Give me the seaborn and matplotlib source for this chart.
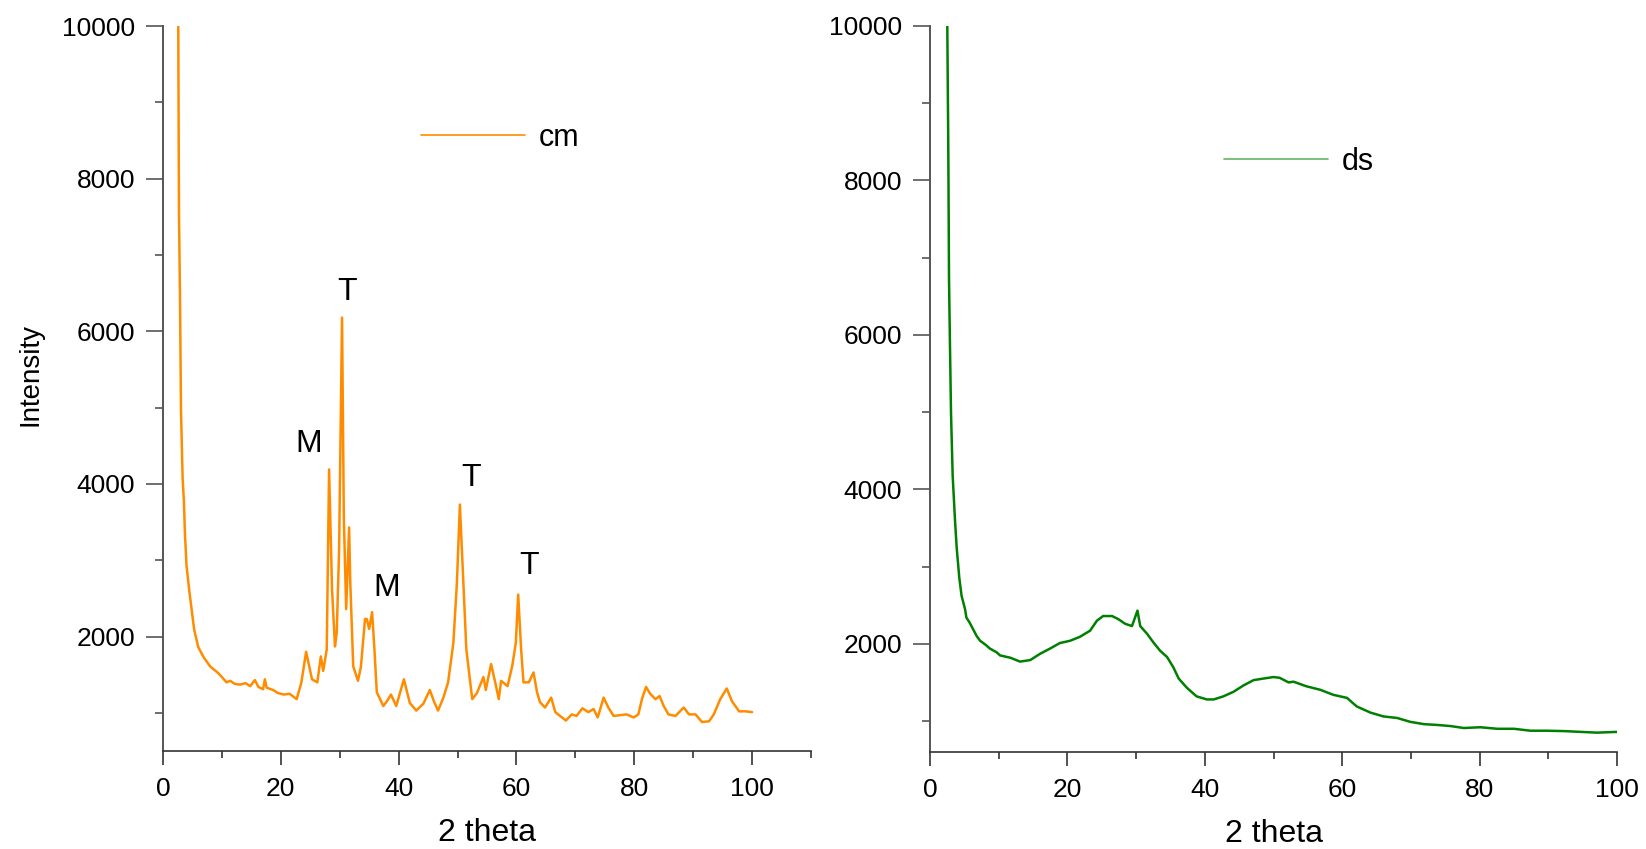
import matplotlib
matplotlib.use("Agg")
import matplotlib.pyplot as plt
from matplotlib.ticker import MultipleLocator
from matplotlib.lines import Line2D
import seaborn as sns

# values
cm_x = [2.6, 2.72, 2.89, 3.06, 3.34, 3.56, 3.73, 4.0, 4.5, 4.9, 5.3, 6.0, 6.9, 8.0, 9.4,
        10.8, 11.4, 12.2, 13.1, 14.0, 14.8, 15.6, 16.2, 17.0, 17.3, 17.6, 18.7, 19.5, 20.5,
        21.5, 22.7, 23.5, 24.3, 25.3, 26.2, 26.8, 27.2, 27.8, 28.2, 28.7, 29.2, 29.5, 29.9,
        30.4, 30.7, 31.1, 31.6, 31.8, 32.3, 33.1, 33.6, 34.3, 34.6, 35.0, 35.5, 35.9, 36.3,
        37.4, 38.0, 38.7, 39.6, 40.9, 41.9, 43.0, 44.2, 45.3, 46.0, 46.7, 47.6, 48.4, 49.3,
        49.9, 50.4, 51.0, 51.5, 52.5, 53.3, 54.4, 54.8, 55.7, 56.4, 57.0, 57.4, 58.5, 59.3,
        59.9, 60.3, 60.8, 61.2, 62.1, 62.9, 63.5, 64.0, 64.85, 65.9, 66.6, 67.4, 68.4, 69.4,
        70.2, 71.2, 72.2, 73.1, 73.8, 74.8, 75.6, 76.5, 77.6, 78.7, 79.9, 80.7, 81.3, 82.0,
        82.7, 83.6, 84.3, 85.0, 85.8, 87.0, 88.4, 89.3, 90.4, 91.5, 92.7, 93.5, 94.6, 95.7,
        96.6, 97.8, 98.9, 100.0]
cm_y = [10000, 7550, 6480, 4970, 4070, 3770, 3350, 2930, 2580, 2330, 2090, 1860, 1730, 1610, 1520,
        1400, 1420, 1380, 1370, 1390, 1350, 1430, 1340, 1310, 1440, 1330, 1300, 1260, 1240,
        1250, 1180, 1400, 1800, 1440, 1400, 1740, 1550, 1830, 4190, 2620, 1870, 2050, 3140,
        6180, 3570, 2360, 3430, 2700, 1610, 1420, 1600, 2230, 2230, 2100, 2320, 1830, 1270,
        1090, 1150, 1240, 1090, 1440, 1130, 1030, 1120, 1300, 1150, 1030, 1200, 1400, 1920,
        2710, 3730, 2710, 1830, 1180, 1260, 1470, 1300, 1640, 1400, 1180, 1420, 1350, 1620,
        1920, 2550, 1830, 1400, 1400, 1530, 1270, 1140, 1070, 1200, 1010, 960, 900, 980,
        960, 1060, 1010, 1050, 940, 1200, 1070, 960, 970, 980, 940, 980, 1180, 1340,
        1250, 1180, 1220, 1090, 980, 960, 1070, 980, 980, 880, 890, 980, 1180, 1320,
        1150, 1020, 1020, 1010]

ds_x = [2.52, 2.67, 2.77, 2.91, 3.06, 3.3, 3.64, 3.88, 4.27, 4.6, 5.1, 5.3, 5.8, 6.8, 7.3,
        8.2, 8.7, 9.7, 10.2, 11.7, 13.1, 14.6, 16.0, 17.5, 18.9, 20.4, 21.8, 23.3, 24.3,
        25.2, 26.5, 27.4, 28.4, 29.4, 30.2, 30.6, 31.6, 32.5, 33.5, 34.5, 35.4, 36.2, 37.4,
        38.8, 40.3, 41.3, 42.7, 44.2, 45.6, 47.1, 48.5, 50.0, 50.9, 52.2, 52.9, 54.8, 56.8,
        58.7, 60.7, 62.1, 64.1, 66.0, 68.0, 69.9, 71.9, 73.8, 75.8, 77.7, 80.1, 82.6, 85.0,
        87.4, 89.8, 92.3, 94.7, 97.1, 100.0]
ds_y = [10000, 8340, 6720, 5850, 4990, 4180, 3600, 3250, 2850, 2620, 2450, 2340, 2270, 2100, 2040,
        1980, 1940, 1890, 1850, 1820, 1770, 1790, 1870, 1940, 2010, 2040, 2090, 2170, 2300,
        2360, 2360, 2320, 2260, 2230, 2430, 2230, 2130, 2020, 1910, 1830, 1700, 1550, 1430,
        1320, 1280, 1280, 1320, 1380, 1460, 1530, 1550, 1570, 1560, 1500, 1510, 1450, 1405,
        1340, 1300, 1190, 1110, 1060, 1040, 990, 960, 950, 935, 910, 920, 900, 900,
        875, 875, 870, 860, 850, 860]

peak_labels = ["M", "T", "M", "T", "T"]
peak_x = [24.8, 31.2, 38.0, 52.3, 62.1]
peak_y = [4520, 6520, 2640, 4080, 2920]

ORANGE = "#ff8c00"
GREEN = "#008000"

sns.set_theme(style="ticks")
plt.rcParams["font.family"] = ["Liberation Sans", "DejaVu Sans"]
plt.rcParams["text.color"] = "black"
plt.rcParams["xtick.labelcolor"] = "black"
plt.rcParams["ytick.labelcolor"] = "black"

fig = plt.figure(figsize=(16.46, 8.49), dpi=100)
ax1 = fig.add_axes([0.0990, 0.1154, 0.3937, 0.8539])
ax2 = fig.add_axes([0.5650, 0.1143, 0.4174, 0.8551])

sns.lineplot(x=cm_x, y=cm_y, ax=ax1, color=ORANGE, linewidth=1.8, estimator=None, sort=False)
sns.lineplot(x=ds_x, y=ds_y, ax=ax2, color=GREEN, linewidth=1.8, estimator=None, sort=False)

ax1.set_xlim(0, 110)
ax1.set_ylim(500, 10000)
ax2.set_xlim(0, 100)
ax2.set_ylim(600, 10000)

for ax in (ax1, ax2):
    sns.despine(ax=ax)
    ax.xaxis.set_major_locator(MultipleLocator(20))
    ax.xaxis.set_minor_locator(MultipleLocator(10))
    ax.yaxis.set_major_locator(MultipleLocator(2000))
    ax.yaxis.set_minor_locator(MultipleLocator(1000))
    ax.tick_params(axis="y", which="major", length=12, width=1.2, pad=8, labelsize=19,
                   color="#555555", labelcolor="black")
    ax.tick_params(axis="y", which="minor", length=6, width=1.2, color="#555555")
    ax.tick_params(axis="x", which="major", length=10, width=1.2, pad=9, labelsize=19,
                   color="#333333", labelcolor="black")
    ax.tick_params(axis="x", which="minor", length=5, width=1.2, color="#333333")
    ax.spines["left"].set_color("#555555")
    ax.spines["left"].set_linewidth(1.4)
    ax.spines["bottom"].set_color("#333333")
    ax.spines["bottom"].set_linewidth(1.2)
    ax.set_xlabel("2 theta", fontsize=23, labelpad=12, color="black")
    ax.set_ylabel("")

ax1.set_ylabel("Intensity", fontsize=20, color="black")
ax1.yaxis.set_label_coords(-0.185, 0.52)

for lab, px, py in zip(peak_labels, peak_x, peak_y):
    ax1.text(px, py, lab, fontsize=23, ha="center", va="center", color="black")

h1 = [Line2D([], [], color=ORANGE, linewidth=1.2)]
ax1.legend(h1, ["cm"], loc="center left", bbox_to_anchor=(0.398, 0.8455), frameon=False,
           borderpad=0, borderaxespad=0, handlelength=3.4, handletextpad=0.45, fontsize=22)
h2 = [Line2D([], [], color=GREEN, linewidth=1.2, alpha=0.6)]
ax2.legend(h2, ["ds"], loc="center left", bbox_to_anchor=(0.428, 0.8127), frameon=False,
           borderpad=0, borderaxespad=0, handlelength=3.4, handletextpad=0.45, fontsize=22)

fig.savefig("out.png", dpi=100)
